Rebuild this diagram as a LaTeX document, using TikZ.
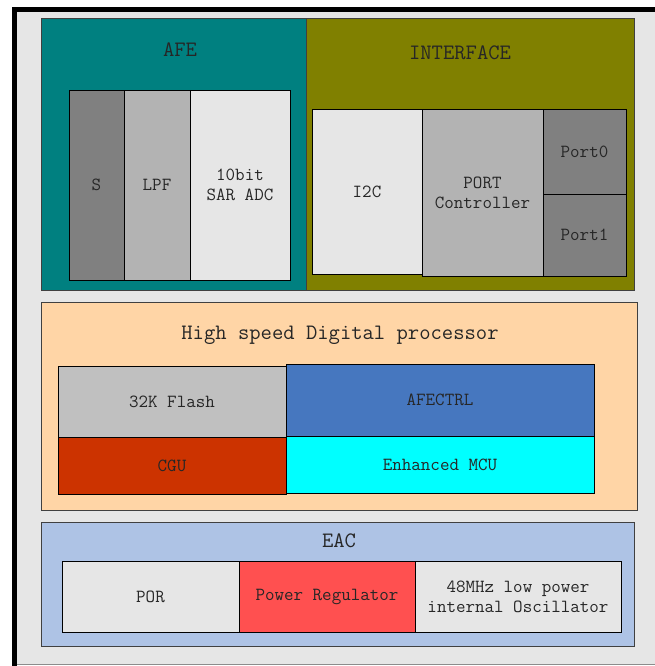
\documentclass[tikz,border=0pt]{standalone}
\usepackage{fontspec}
\begin{document}
\begin{tikzpicture}[x=1pt,y=-1pt,
  grp/.style={draw=black!75,line width=0.8pt,inner sep=0pt,outer sep=0pt,anchor=north west},
  blk/.style={draw=black,line width=0.8pt,inner sep=0pt,outer sep=0pt,anchor=north west,
    font=\ttfamily\fontsize{18.5}{20}\selectfont,align=center,text=black!85},
  ttl/.style={font=\ttfamily\fontsize{22}{24}\selectfont,text=black!85,inner sep=0pt}]
\definecolor{bgg}{HTML}{E6E6E6}
\definecolor{teal1}{HTML}{008080}
\definecolor{olive1}{HTML}{808000}
\definecolor{peach}{HTML}{FFD5A6}
\definecolor{blue1}{HTML}{4677BF}
\definecolor{rust}{HTML}{CC3300}
\definecolor{cyan1}{HTML}{00FFFF}
\definecolor{eacb}{HTML}{AEC3E5}
\definecolor{red1}{HTML}{FF5050}
\definecolor{flash}{HTML}{C0C0C0}
\definecolor{g80}{HTML}{808080}
\definecolor{gb3}{HTML}{B3B3B3}
\useasboundingbox (0,0) rectangle (654,666);
% outer frame
\fill[white] (0,0) rectangle (654,666);
\draw[fill=bgg,draw=black!45,line width=0.8pt] (14,10) rectangle (662,664);
\draw[line width=5pt] (14,666) -- (14,10) -- (660,10);
% AFE
\node[grp,fill=teal1,minimum width=265,minimum height=272] (afe) at (41,18) {};
\node[ttl] (afet) at (180,50) {AFE};
\node[blk,fill=g80,minimum width=55,minimum height=190] (s) at (69,90) {S};
\node[blk,fill=gb3,minimum width=66,minimum height=190] (lpf) at (124,90) {LPF};
\node[blk,fill=bgg,minimum width=100,minimum height=190] (adc) at (190,90) {10bit\\SAR ADC};
% INTERFACE
\node[grp,fill=olive1,minimum width=328,minimum height=272] (itf) at (306,18) {};
\node[ttl] (itft) at (460,53) {INTERFACE};
\node[blk,fill=bgg,minimum width=110,minimum height=165] (i2c) at (312,109) {I2C};
\node[blk,fill=gb3,minimum width=121,minimum height=167] (pc) at (422,109) {PORT\\Controller};
\node[blk,fill=g80,minimum width=83,minimum height=85] (p0) at (543,109) {Port0};
\node[blk,fill=g80,minimum width=83,minimum height=82] (p1) at (543,194) {Port1};
% High speed
\node[grp,fill=peach,minimum width=596,minimum height=208] (hs) at (41,302) {};
\node[ttl] (hst) at (340,335) {High speed Digital processor};
\node[blk,fill=flash,minimum width=228,minimum height=71] (fl) at (58,366) {32K Flash};
\node[blk,fill=blue1,minimum width=308,minimum height=72] (afc) at (286,364) {AFECTRL};
\node[blk,fill=rust,minimum width=228,minimum height=57] (cgu) at (58,437) {CGU};
\node[blk,fill=cyan1,minimum width=308,minimum height=57] (mcu) at (286,436) {Enhanced MCU};
% EAC
\node[grp,fill=eacb,minimum width=593,minimum height=124] (eac) at (41,522) {};
\node[ttl] (eact) at (339,541) {EAC};
\node[blk,fill=bgg,minimum width=177,minimum height=71] (por) at (62,561) {POR};
\node[blk,fill=red1,minimum width=176,minimum height=71] (pr) at (239,561) {Power Regulator};
\node[blk,fill=bgg,minimum width=206,minimum height=71] (osc) at (415,561) {48MHz low power\\internal Oscillator};
\end{tikzpicture}
\end{document}
